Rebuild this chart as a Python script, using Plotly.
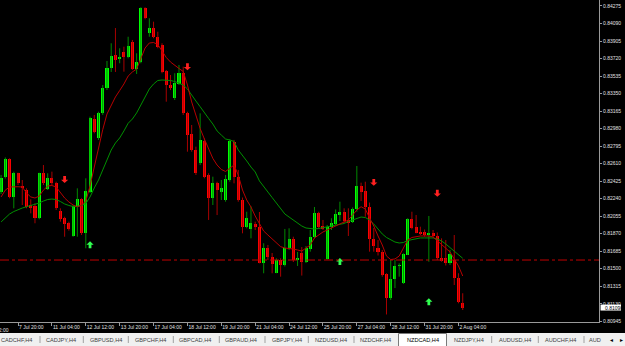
import plotly.graph_objects as go

# ---------------- data (NZDCAD, H4) ----------------
bar_index = list(range(110))
open_ = [0.82307,0.82466,0.82659,0.82254,0.82508,0.82374,0.82331,0.82173,0.82162,0.82033,
         0.82508,0.82339,0.82461,0.82409,0.82110,0.82036,0.81980,0.81849,0.82155,0.82233,
         0.81874,0.82314,0.83081,0.82877,0.83141,0.83405,0.83617,0.83757,0.83712,0.83792,
         0.83733,0.83898,0.83609,0.83686,0.84250,0.83986,0.84039,0.83950,0.83863,0.83591,
         0.83440,0.83300,0.83451,0.83570,0.83141,0.82923,0.82754,0.82613,0.82852,0.82490,
         0.82244,0.82402,0.82314,0.82226,0.82437,0.82842,0.82472,0.82226,0.81944,0.81916,
         0.81972,0.81938,0.81564,0.81719,0.81627,0.81460,0.81592,0.81539,0.81716,0.81811,
         0.81587,0.81663,0.81571,0.81705,0.81835,0.82085,0.81956,0.81606,0.81938,0.81972,
         0.82067,0.82102,0.82015,0.81994,0.82126,0.82374,0.82319,0.82155,0.81814,0.81724,
         0.81680,0.81444,0.81188,0.81392,0.81529,0.81346,0.81650,0.82022,0.81941,0.81891,
         0.81883,0.81853,0.81880,0.81846,0.81613,0.81610,0.81557,0.81589,0.81399,0.81135]
high = [0.82490,0.82675,0.82666,0.82525,0.82514,0.82437,0.82349,0.82233,0.82191,0.82514,
        0.82595,0.82508,0.82525,0.82419,0.82138,0.82049,0.81997,0.82173,0.82349,0.82244,
        0.82455,0.83106,0.83124,0.83158,0.83440,0.83694,0.83881,0.84042,0.83828,0.83845,
        0.83950,0.83916,0.83775,0.84261,0.84261,0.84145,0.84109,0.84003,0.83881,0.83599,
        0.83546,0.83564,0.83652,0.83634,0.83158,0.83018,0.82789,0.83141,0.82877,0.82508,
        0.82472,0.82419,0.82437,0.82490,0.82867,0.82860,0.82543,0.82252,0.82102,0.82159,
        0.81997,0.82099,0.81769,0.81751,0.81666,0.81610,0.81610,0.81920,0.81927,0.81838,
        0.81677,0.81729,0.81740,0.81909,0.82152,0.82102,0.82015,0.81962,0.82033,0.82126,
        0.82208,0.82138,0.82138,0.82147,0.82585,0.82409,0.82419,0.82199,0.81930,0.81803,
        0.81698,0.81452,0.81592,0.81592,0.81557,0.81663,0.82033,0.82102,0.82067,0.81944,
        0.81914,0.82057,0.81909,0.81883,0.81821,0.81803,0.81698,0.81856,0.81452,0.81241]
low = [0.82289,0.82453,0.82244,0.82138,0.82384,0.82173,0.82138,0.82085,0.81980,0.82022,
       0.82384,0.82331,0.82384,0.82120,0.81997,0.81838,0.81902,0.81838,0.81838,0.81856,
       0.81716,0.82300,0.82930,0.82860,0.83124,0.83387,0.83578,0.83578,0.83670,0.83581,
       0.83722,0.83599,0.83557,0.83670,0.84134,0.83950,0.83934,0.83828,0.83564,0.83264,
       0.83387,0.83282,0.83440,0.83124,0.82736,0.82736,0.82490,0.82595,0.82455,0.82015,
       0.82173,0.82067,0.82226,0.82208,0.82419,0.82402,0.82208,0.81874,0.81927,0.81821,
       0.81909,0.81557,0.81452,0.81592,0.81452,0.81452,0.81416,0.81524,0.81698,0.81571,
       0.81529,0.81428,0.81560,0.81680,0.81821,0.81920,0.81909,0.81597,0.81909,0.81962,
       0.82004,0.81983,0.81846,0.81983,0.82102,0.82215,0.82049,0.81680,0.81680,0.81640,
       0.81416,0.81017,0.81170,0.81296,0.81416,0.81339,0.81645,0.81916,0.81874,0.81856,
       0.81838,0.81574,0.81832,0.81592,0.81574,0.81534,0.81539,0.81328,0.81135,0.81064]
close = [0.82461,0.82659,0.82261,0.82508,0.82409,0.82360,0.82155,0.82138,0.82033,0.82508,
         0.82402,0.82461,0.82402,0.82138,0.82025,0.81972,0.81916,0.82166,0.82233,0.81874,
         0.82321,0.83089,0.82947,0.83141,0.83405,0.83617,0.83747,0.83704,0.83739,0.83739,
         0.83852,0.83606,0.83686,0.84250,0.84145,0.84039,0.83950,0.83845,0.83581,0.83440,
         0.83405,0.83458,0.83570,0.83141,0.82912,0.82754,0.82508,0.82860,0.82472,0.82244,
         0.82402,0.82331,0.82356,0.82448,0.82849,0.82472,0.82226,0.81944,0.82033,0.81980,
         0.81938,0.81564,0.81719,0.81619,0.81550,0.81592,0.81539,0.81719,0.81809,0.81587,
         0.81613,0.81574,0.81716,0.81838,0.82085,0.81944,0.81922,0.81944,0.81980,0.82078,
         0.82102,0.82007,0.81986,0.82131,0.82374,0.82314,0.82152,0.81814,0.81740,0.81677,
         0.81434,0.81188,0.81392,0.81534,0.81539,0.81653,0.82022,0.81935,0.81880,0.81867,
         0.81854,0.81877,0.81849,0.81615,0.81592,0.81557,0.81653,0.81399,0.81149,0.81090]

ma_fast = [0.82258,0.82331,0.82363,0.82366,0.82366,0.82363,0.82300,0.82258,0.82247,0.82268,
           0.82331,0.82374,0.82379,0.82363,0.82300,0.82247,0.82205,0.82173,0.82155,0.82173,
           0.82215,0.82374,0.82574,0.82775,0.82969,0.83134,0.83231,0.83314,0.83382,0.83451,
           0.83535,0.83578,0.83609,0.83726,0.83831,0.83884,0.83889,0.83868,0.83799,0.83731,
           0.83683,0.83646,0.83615,0.83583,0.83440,0.83261,0.83113,0.82981,0.82870,0.82764,
           0.82665,0.82595,0.82548,0.82527,0.82564,0.82595,0.82490,0.82331,0.82226,0.82152,
           0.82057,0.81972,0.81898,0.81856,0.81814,0.81772,0.81733,0.81719,0.81716,0.81708,
           0.81698,0.81687,0.81719,0.81751,0.81825,0.81856,0.81888,0.81909,0.81930,0.81951,
           0.81967,0.81994,0.82015,0.82067,0.82120,0.82155,0.82131,0.82036,0.81951,0.81846,
           0.81751,0.81634,0.81597,0.81603,0.81634,0.81719,0.81803,0.81830,0.81840,0.81846,
           0.81846,0.81846,0.81835,0.81793,0.81751,0.81708,0.81677,0.81603,0.81529,0.81423]
ma_slow = [0.81994,0.82036,0.82078,0.82104,0.82126,0.82141,0.82155,0.82168,0.82178,0.82194,
           0.82215,0.82231,0.82236,0.82231,0.82210,0.82184,0.82168,0.82157,0.82157,0.82168,
           0.82189,0.82258,0.82353,0.82437,0.82543,0.82648,0.82754,0.82828,0.82881,0.82955,
           0.83036,0.83081,0.83145,0.83229,0.83314,0.83398,0.83451,0.83488,0.83493,0.83493,
           0.83488,0.83477,0.83461,0.83440,0.83398,0.83340,0.83271,0.83211,0.83145,0.83087,
           0.83028,0.82955,0.82912,0.82870,0.82860,0.82844,0.82754,0.82701,0.82638,0.82574,
           0.82522,0.82427,0.82374,0.82310,0.82252,0.82194,0.82131,0.82078,0.82046,0.82015,
           0.81978,0.81951,0.81930,0.81922,0.81920,0.81925,0.81935,0.81941,0.81951,0.81962,
           0.81967,0.81978,0.81999,0.82015,0.82036,0.82046,0.82041,0.82015,0.81972,0.81920,
           0.81867,0.81830,0.81803,0.81782,0.81772,0.81777,0.81798,0.81809,0.81819,0.81825,
           0.81825,0.81827,0.81825,0.81814,0.81793,0.81761,0.81724,0.81687,0.81645,0.81610]

sell_idx = [15, 44, 88, 103]
sell_price = [0.82444, 0.83634, 0.82413, 0.82297]
buy_idx = [21, 80, 101]
buy_price = [0.81751, 0.81574, 0.81149]

level_price = 0.81592
current_price = 0.81090

xtick_idx = [4, 12, 20, 28, 36, 44, 52, 60, 68, 76, 84, 92, 100, 108]
xtick_text = ["7 Jul 20:00", "11 Jul 04:00", "12 Jul 12:00", "13 Jul 20:00", "17 Jul 04:00",
              "18 Jul 12:00", "19 Jul 20:00", "21 Jul 04:00", "24 Jul 12:00", "25 Jul 20:00",
              "27 Jul 04:00", "28 Jul 12:00", "31 Jul 20:00", "2 Aug 04:00"]
early_tick_idx = -4
early_tick_text = "6 Jul 12:00"
ytick_vals = [0.84275, 0.84090, 0.83905, 0.83720, 0.83535, 0.83350, 0.83165, 0.82980,
              0.82795, 0.82610, 0.82425, 0.82240, 0.82055, 0.81870, 0.81685, 0.81500,
              0.81315, 0.81130, 0.80945]

tabs = ["CADCHF,H4", "CADJPY,H4", "GBPUSD,H4", "GBPCHF,H4", "GBPCAD,H4", "GBPAUD,H4",
        "GBPJPY,H4", "NZDUSD,H4", "NZDCHF,H4", "NZDCAD,H4", "NZDJPY,H4", "AUDUSD,H4",
        "AUDCHF,H4", "AUD"]
active_tab = "NZDCAD,H4"

# ---------------- layout geometry ----------------
W, H = 625, 346
PL, PR, PT, PB = 0, 599, 0, 322          # plot area in pixels
X_RANGE = [-0.26, 141.18]
Y_RANGE = [0.809374, 0.84338]
DX = (X_RANGE[1] - X_RANGE[0]) / (PR - PL)   # bar units per pixel
DY = (Y_RANGE[1] - Y_RANGE[0]) / (PB - PT)   # price units per pixel

def px_x(px):
    return (px - PL) / (PR - PL)

def px_y(py):
    return (PB - py) / (PB - PT)

def bar_to_paper(i):
    return (i - X_RANGE[0]) / (X_RANGE[1] - X_RANGE[0])

BULL_BODY, BEAR_BODY = "#00ff00", "#ff0000"
BULL_WICK, BEAR_WICK = "#008a00", "#a80000"

fig = go.Figure()

# wicks
for bull, col in ((True, BULL_WICK), (False, BEAR_WICK)):
    xs, ys = [], []
    for i, o, h, l, c in zip(bar_index, open_, high, low, close):
        if (c >= o) == bull:
            xs += [i, i, None]
            ys += [l, h, None]
    fig.add_trace(go.Scatter(x=xs, y=ys, mode="lines", line=dict(color=col, width=1),
                             hoverinfo="skip", showlegend=False))

# bodies
min_body = 0.00009
for bull, col in ((True, BULL_BODY), (False, BEAR_BODY)):
    xs, bases, hs = [], [], []
    for i, o, c in zip(bar_index, open_, close):
        if (c >= o) == bull:
            lo, hi = min(o, c), max(o, c)
            hgt = max(hi - lo, min_body)
            mid = (lo + hi) / 2
            xs.append(i)
            bases.append(mid - hgt / 2)
            hs.append(hgt)
    fig.add_trace(go.Bar(x=xs, y=hs, base=bases, width=0.72, marker=dict(color=col, line=dict(width=0)),
                         showlegend=False, hoverinfo="skip"))

# moving averages
fig.add_trace(go.Scatter(x=bar_index, y=ma_slow, mode="lines", line=dict(color="#009000", width=1),
                         showlegend=False, hoverinfo="skip"))
fig.add_trace(go.Scatter(x=bar_index, y=ma_fast, mode="lines", line=dict(color="#b80000", width=1),
                         showlegend=False, hoverinfo="skip"))

shapes = []
annotations = []

# signal arrows (thick arrow glyphs: stem + head), sized in pixels
def arrow_path(xc, yc, down):
    s = -1 if down else 1      # direction of the tip (+1 = up)
    hw, sw = 3.6, 1.4          # half widths of head / stem (px)
    tip, neck, tail = 3.6, 0.3, -3.4
    pts = [(0, tip), (hw, neck), (sw, neck), (sw, tail), (-sw, tail), (-sw, neck), (-hw, neck)]
    coords = [(xc + px * DX, yc + s * py * DY) for px, py in pts]
    return "M " + " L ".join(f"{x:.4f},{y:.6f}" for x, y in coords) + " Z"

for i, p in zip(sell_idx, sell_price):
    shapes.append(dict(type="path", xref="x", yref="y", path=arrow_path(i, p, True),
                       fillcolor="#ff2020", line=dict(width=0), layer="above"))
for i, p in zip(buy_idx, buy_price):
    shapes.append(dict(type="path", xref="x", yref="y", path=arrow_path(i, p, False),
                       fillcolor="#30ff50", line=dict(width=0), layer="above"))

# horizontal level line
shapes.append(dict(type="line", xref="paper", x0=0, x1=1, yref="y", y0=level_price, y1=level_price,
                   line=dict(color="#c00000", width=1, dash="dashdot")))

# current price box
shapes.append(dict(type="rect", xref="paper", yref="y", x0=px_x(600.5), x1=px_x(621),
                   y0=current_price - 3 * DY, y1=current_price + 3 * DY,
                   fillcolor="#ffffff", line=dict(width=0), layer="above"))
annotations.append(dict(xref="paper", yref="y", x=px_x(602.5), y=current_price, text=f"{current_price:.5f}",
                        xanchor="left", yanchor="middle", showarrow=False,
                        font=dict(family="Liberation Sans", size=5, color="#000000")))

# partially visible first date label (left of the visible range, cut by the window edge as in MT4)
annotations.append(dict(xref="paper", yref="paper", x=bar_to_paper(early_tick_idx) - px_x(2.5) + px_x(0),
                        y=px_y(324.5), text=early_tick_text,
                        xanchor="left", yanchor="top", showarrow=False,
                        font=dict(family="Liberation Sans", size=5, color="#e0e0e0")))

# tab strip
shapes.append(dict(type="rect", xref="paper", yref="paper", x0=px_x(0), x1=px_x(W), y0=px_y(H + 1), y1=px_y(333),
                   fillcolor="#f0f0f0", line=dict(width=0), layer="above"))
tab_centers = [16, 60.7, 106, 150, 195.3, 241, 286.7, 331.3, 375.8, 422.5, 469, 515, 560.8, 594.7]
sep_x = [40, 83.3, 128.3, 173.3, 219.3, 265, 308.3, 354, 491.7, 538.3, 584]
for name, cx in zip(tabs, tab_centers):
    if name == active_tab:
        shapes.append(dict(type="rect", xref="paper", yref="paper", x0=px_x(398.5), x1=px_x(446.5),
                           y0=px_y(H + 1), y1=px_y(333.5), fillcolor="#ffffff",
                           line=dict(color="#7a7a7a", width=1), layer="above"))
    annotations.append(dict(xref="paper", yref="paper", x=px_x(cx), y=px_y(339.5), text=name,
                            xanchor="center", yanchor="middle", showarrow=False,
                            font=dict(family="Liberation Sans", size=5.6,
                                      color="#000000" if name == active_tab else "#404040")))
for sx in sep_x:
    shapes.append(dict(type="line", xref="paper", yref="paper", x0=px_x(sx), x1=px_x(sx),
                       y0=px_y(343), y1=px_y(336), line=dict(color="#a0a0a0", width=1), layer="above"))
for ax_px, sym in ((611.7, "◂"), (621.5, "▸")):
    annotations.append(dict(xref="paper", yref="paper", x=px_x(ax_px), y=px_y(339.5), text=sym,
                            xanchor="center", yanchor="middle", showarrow=False,
                            font=dict(family="DejaVu Sans", size=6, color="#000000")))

fig.update_layout(
    width=W, height=H,
    margin=dict(l=PL, r=W - PR, t=PT, b=H - PB, pad=0),
    paper_bgcolor="#000000", plot_bgcolor="#000000",
    barmode="overlay", bargap=0, showlegend=False,
    shapes=shapes, annotations=annotations,
    xaxis=dict(range=X_RANGE, showgrid=False, zeroline=False, showline=True, linecolor="#9a9a9a",
               linewidth=1, tickmode="array", tickvals=xtick_idx, ticktext=xtick_text,
               ticks="outside", ticklen=3, tickcolor="#9a9a9a", tickangle=0,
               ticklabelposition="outside right",
               tickfont=dict(family="Liberation Sans", size=5, color="#e0e0e0"), fixedrange=True),
    yaxis=dict(range=Y_RANGE, side="right", showgrid=False, zeroline=False, showline=True,
               linecolor="#9a9a9a", linewidth=1, tickmode="array", tickvals=ytick_vals,
               ticktext=[f"{v:.5f}" for v in ytick_vals], ticks="outside", ticklen=2,
               tickcolor="#9a9a9a", tickfont=dict(family="Liberation Sans", size=5, color="#e0e0e0"),
               fixedrange=True),
)

fig.write_html("out.html")
